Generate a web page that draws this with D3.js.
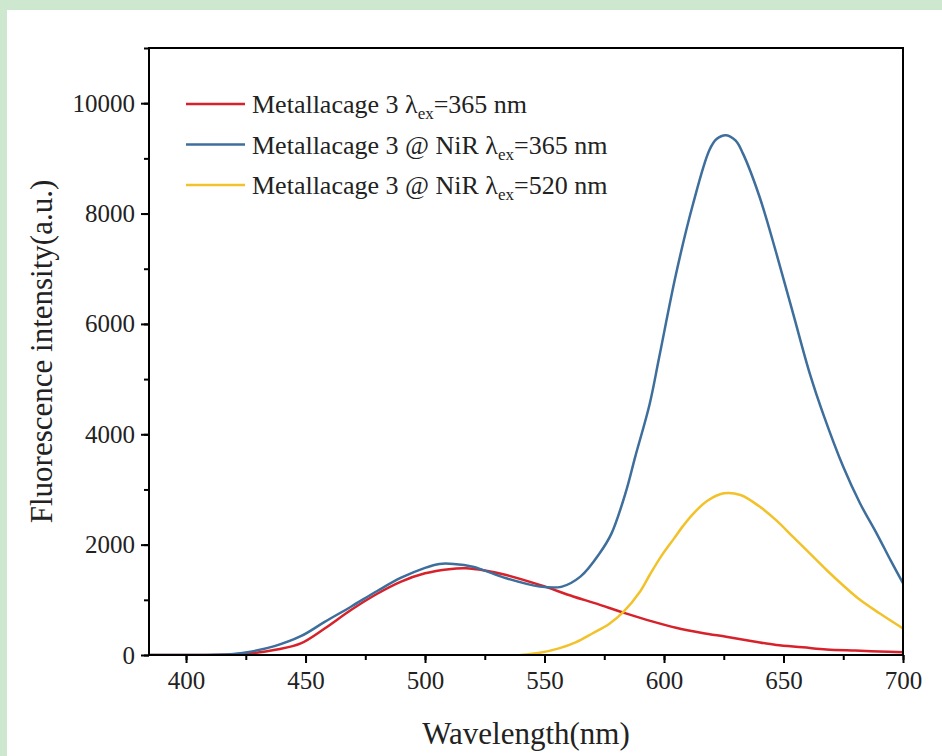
<!DOCTYPE html>
<html>
<head>
    <meta charset="UTF-8" />
    <title>Fluorescence spectra</title>
    <style>
        body {
            margin: 0;
            background-color: #ffffff;
        }

        svg {
            display: block;
            font-family: "Liberation Serif", "Times New Roman", serif;
        }

        .frame {
            fill: none;
            stroke: #000;
            stroke-width: 2;
        }

        .curve {
            fill: none;
            stroke-width: 2.5;
            stroke-linejoin: round;
        }
    </style>
    <script src="https://cdn.jsdelivr.net/npm/d3@7"></script>
</head>
<body>
    <div id="chart"></div>
    <script>
        // wavelength (nm) and intensity (a.u.)
        let redX = [385, 400, 415, 427, 438, 448, 458, 469, 480, 490, 500, 510, 517, 525, 534, 548, 562, 571, 584, 595, 605, 616, 626, 637, 647, 658, 668, 680, 690, 700];
        let redY = [0, 0, 5, 30, 100, 210, 480, 815, 1110, 1330, 1480, 1555, 1570, 1530, 1450, 1270, 1060, 940, 755, 610, 495, 400, 330, 250, 180, 140, 100, 80, 65, 50];

        let blueX = [385, 400, 412, 420, 427, 437, 448, 458, 469, 480, 490, 500, 506, 512, 520, 534, 548, 557, 565, 573, 578, 584, 588, 594, 598, 605, 612, 619, 622, 626, 630, 633, 640, 647, 654, 661, 667, 675, 682, 689, 695, 700];
        let blueY = [0, 0, 5, 20, 60, 160, 340, 600, 875, 1160, 1400, 1580, 1650, 1650, 1600, 1390, 1240, 1235, 1420, 1840, 2200, 2950, 3600, 4550, 5400, 6900, 8150, 9150, 9350, 9420, 9320, 9090, 8300, 7280, 6190, 5100, 4320, 3410, 2750, 2200, 1700, 1300];

        let yellowX = [540, 548, 556, 563, 570, 577, 583, 590, 594, 599, 604, 608, 612, 618, 625, 632, 640, 647, 654, 661, 668, 675, 682, 690, 700];
        let yellowY = [0, 40, 120, 230, 390, 560, 780, 1150, 1450, 1800, 2100, 2340, 2550, 2790, 2930, 2900, 2690, 2440, 2140, 1840, 1540, 1260, 1000, 760, 480];

        let seriesNames = ["Metallacage 3 ", "Metallacage 3 @ NiR ", "Metallacage 3 @ NiR "];
        let seriesExc = ["=365 nm", "=365 nm", "=520 nm"];
        let colors = ["#d7222b", "#3d6e9c", "#f2c22b"];

        let xTicks = [400, 450, 500, 550, 600, 650, 700];
        let yTicks = [0, 2000, 4000, 6000, 8000, 10000];

        let W = 942, H = 756;
        let margin = { top: 48, right: 39, bottom: 101, left: 149 };

        let svg = d3.select("#chart").append("svg")
            .attr("width", W)
            .attr("height", H);

        // light green border on top and left
        svg.append("rect").attr("x", 0).attr("y", 0).attr("width", W).attr("height", 10).attr("fill", "#cee8d0");
        svg.append("rect").attr("x", 0).attr("y", 0).attr("width", 7).attr("height", H).attr("fill", "#cee8d0");

        let x = d3.scaleLinear().domain([384.5, 700]).range([margin.left, W - margin.right]);
        let y = d3.scaleLinear().domain([0, 11000]).range([H - margin.bottom, margin.top]);

        let g = svg.append("g");

        // minor ticks
        g.append("g")
            .attr("transform", "translate(0," + y(0) + ")")
            .call(d3.axisBottom(x).tickValues(d3.range(400, 701, 25)).tickSize(5).tickFormat(""))
            .call(a => a.select(".domain").remove())
            .selectAll("line").attr("stroke-width", 2);
        g.append("g")
            .attr("transform", "translate(" + x.range()[0] + ",0)")
            .call(d3.axisLeft(y).tickValues(d3.range(0, 11001, 1000)).tickSize(5).tickFormat(""))
            .call(a => a.select(".domain").remove())
            .selectAll("line").attr("stroke-width", 2);

        // major ticks
        let xAxis = g.append("g")
            .attr("transform", "translate(0," + y(0) + ")")
            .call(d3.axisBottom(x).tickValues(xTicks).tickSize(8).tickPadding(8).tickFormat(d3.format("d")))
            .call(a => a.select(".domain").remove());
        xAxis.selectAll("line").attr("stroke-width", 2);
        xAxis.selectAll("text").attr("font-size", 25).attr("font-family", "Liberation Serif").attr("fill", "#222");

        let yAxis = g.append("g")
            .attr("transform", "translate(" + x.range()[0] + ",0)")
            .call(d3.axisLeft(y).tickValues(yTicks).tickSize(8).tickPadding(6).tickFormat(d3.format("d")))
            .call(a => a.select(".domain").remove());
        yAxis.selectAll("line").attr("stroke-width", 2);
        yAxis.selectAll("text").attr("font-size", 25).attr("font-family", "Liberation Serif").attr("fill", "#222");

        // curves
        let line = d3.line()
            .x(d => x(d[0]))
            .y(d => y(d[1]))
            .curve(d3.curveCatmullRom.alpha(0.5));

        let series = [
            d3.zip(redX, redY),
            d3.zip(blueX, blueY),
            d3.zip(yellowX, yellowY)
        ];

        svg.append("defs").append("clipPath").attr("id", "clip")
            .append("rect")
            .attr("x", x.range()[0]).attr("y", y.range()[1])
            .attr("width", x.range()[1] - x.range()[0])
            .attr("height", y.range()[0] - y.range()[1]);

        svg.append("g").attr("clip-path", "url(#clip)")
            .selectAll("path")
            .data(series)
            .enter()
            .append("path")
            .attr("class", "curve")
            .attr("stroke", (d, i) => colors[i])
            .attr("d", line);

        // frame
        svg.append("rect")
            .attr("class", "frame")
            .attr("x", x.range()[0]).attr("y", y.range()[1])
            .attr("width", x.range()[1] - x.range()[0])
            .attr("height", y.range()[0] - y.range()[1]);

        // axis titles
        svg.append("text")
            .attr("x", (x.range()[0] + x.range()[1]) / 2)
            .attr("y", 744)
            .attr("text-anchor", "middle")
            .attr("font-size", 31)
            .attr("fill", "#222")
            .text("Wavelength(nm)");

        svg.append("text")
            .attr("transform", "translate(52," + (y.range()[0] + y.range()[1]) / 2 + ") rotate(-90)")
            .attr("text-anchor", "middle")
            .attr("font-size", 31)
            .attr("fill", "#222")
            .text("Fluorescence intensity(a.u.)");

        // legend
        let legend = svg.append("g").attr("transform", "translate(186,104)");
        let rows = legend.selectAll("g")
            .data(seriesNames)
            .enter()
            .append("g")
            .attr("transform", (d, i) => "translate(0," + i * 40.5 + ")");

        rows.append("line")
            .attr("x1", 0).attr("x2", 59)
            .attr("y1", 0).attr("y2", 0)
            .attr("stroke", (d, i) => colors[i])
            .attr("stroke-width", 2.5);

        let label = rows.append("text")
            .attr("x", 66)
            .attr("y", 9)
            .attr("font-size", 26)
            .attr("fill", "#222");
        label.append("tspan").text(d => d + "\u03bb");
        label.append("tspan").attr("font-size", 17).attr("dy", 6).text("ex");
        label.append("tspan").attr("dy", -6).text((d, i) => seriesExc[i]);
    </script>
</body>
</html>
